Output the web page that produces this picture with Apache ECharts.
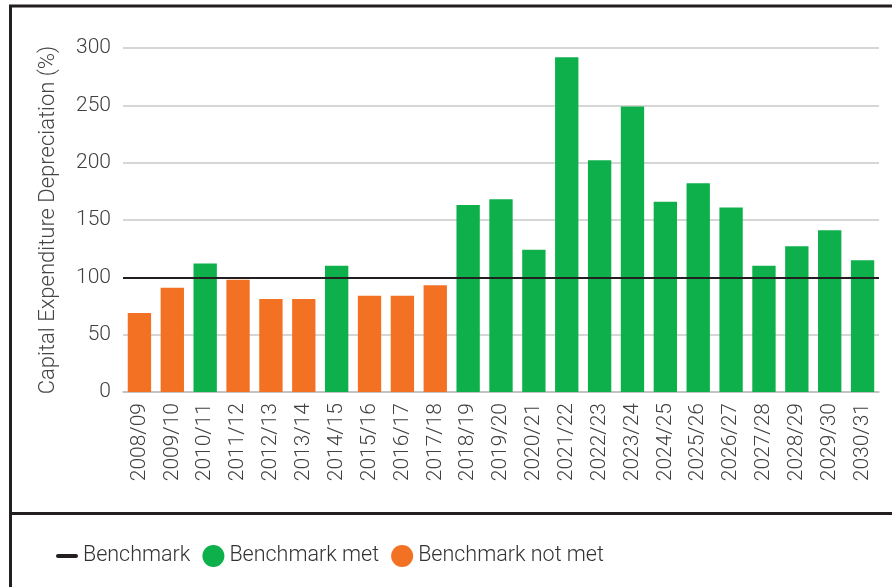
<!DOCTYPE html>
<html>
<head>
<meta charset="utf-8">
<script src="https://cdn.jsdelivr.net/npm/echarts@6/dist/echarts.min.js"></script>
<style>html,body{margin:0;padding:0;background:#fff}#c{width:892px;height:587px}</style>
</head>
<body>
<div id="c"></div>
<script>
var categories = ["2008/09","2009/10","2010/11","2011/12","2012/13","2013/14","2014/15","2015/16","2016/17","2017/18","2018/19","2019/20","2020/21","2021/22","2022/23","2023/24","2024/25","2025/26","2026/27","2027/28","2028/29","2029/30","2030/31"];
var values = [69, 91, 112, 98, 81, 81, 110, 84, 84, 93, 163, 168, 124, 292, 202, 249, 166, 182, 161, 110, 127, 141, 115];
var benchmark = 100;
var yTicks = [0, 50, 100, 150, 200, 250, 300];

var GREEN = '#0db04b', ORANGE = '#f37123';
var met = values.map(function(v){ return v >= benchmark ? v : '-'; });
var notMet = values.map(function(v){ return v < benchmark ? v : '-'; });
var font = 'Roboto';
var chart = echarts.init(document.getElementById('c'));
chart.setOption({
  animation: false,
  textStyle: { fontFamily: font },
  graphic: [
    { type: 'rect', shape: { x: 10.5, y: 6, width: 950, height: 700 }, style: { fill: 'none', stroke: '#231f20', lineWidth: 3 }, z: 100 },
    { type: 'line', shape: { x1: 10, y1: 513.5, x2: 892, y2: 513.5 }, style: { stroke: '#231f20', lineWidth: 3 }, z: 100 }
  ],
  grid: { left: 123, right: 13, top: 48, bottom: 195 },
  legend: {
    left: 51, top: 540, itemGap: 12, itemWidth: 22, itemHeight: 24,
    textStyle: { fontSize: 21.5, fontWeight: 300, color: '#333', fontFamily: font },
    data: [
      { name: 'Benchmark', icon: 'path://M2,0 L20,0 A2,2 0 0 1 20,4 L2,4 A2,2 0 0 1 2,0 Z' },
      { name: 'Benchmark met', icon: 'circle' },
      { name: 'Benchmark not met', icon: 'circle' }
    ]
  },
  xAxis: {
    type: 'category', data: categories,
    axisLine: { lineStyle: { color: '#bdbdbd', width: 1.5 } },
    axisTick: { show: false },
    axisLabel: { rotate: 90, interval: 0, margin: 11, fontSize: 21, fontWeight: 300, color: '#404040', fontFamily: font }
  },
  yAxis: {
    type: 'value', min: yTicks[0], max: yTicks[yTicks.length-1], interval: 50,
    name: 'Capital Expenditure Depreciation (%)', nameLocation: 'middle', nameGap: 64,
    nameTextStyle: { fontSize: 22, fontWeight: 300, color: '#454545', fontFamily: font },
    axisLine: { show: false }, axisTick: { show: false },
    axisLabel: { margin: 12, fontSize: 21, fontWeight: 300, color: '#404040', fontFamily: font },
    splitLine: { lineStyle: { color: '#c8c8c8', width: 1.5 } }
  },
  series: [
    { name: 'Benchmark met', type: 'bar', stack: 'a', data: met, barCategoryGap: '29%', itemStyle: { color: GREEN } },
    { name: 'Benchmark not met', type: 'bar', stack: 'a', data: notMet, barCategoryGap: '29%', itemStyle: { color: ORANGE } },
    { name: 'Benchmark', type: 'line', data: [], itemStyle: { color: '#231f20' }, lineStyle: { color: '#231f20' },
      markLine: { silent: true, symbol: 'none', label: { show: false },
        lineStyle: { color: '#231f20', width: 2, type: 'solid' },
        data: [{ yAxis: benchmark }] }, z: 5 }
  ]
});
</script>
</body>
</html>
